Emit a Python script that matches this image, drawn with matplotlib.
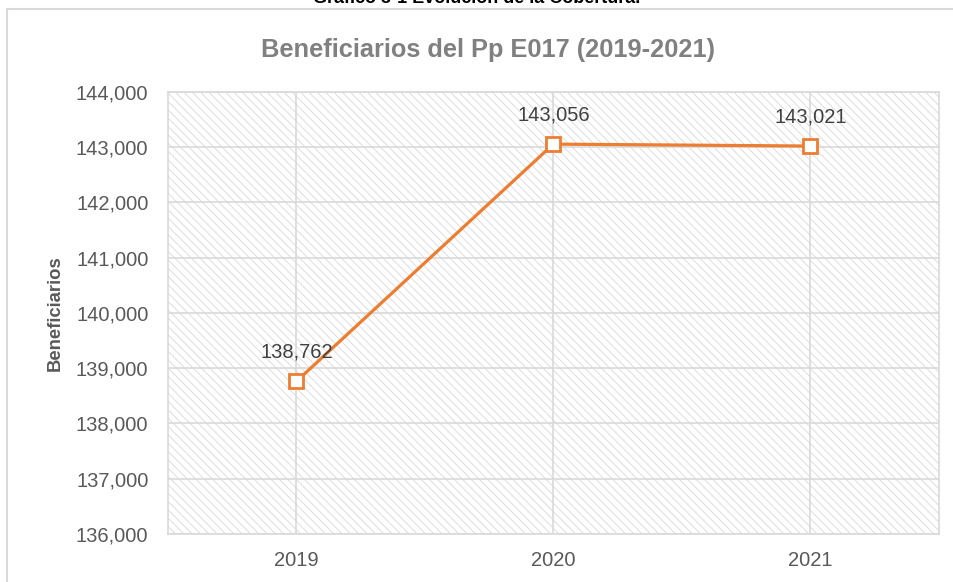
import matplotlib.pyplot as plt
from matplotlib.patches import Rectangle
from matplotlib.ticker import FuncFormatter

plt.rcParams['font.family'] = ['Liberation Sans', 'DejaVu Sans']
plt.rcParams['hatch.linewidth'] = 0.6

# datos
anios = ['2019', '2020', '2021']
beneficiarios = [138762, 143056, 143021]
y_ticks = [136000, 137000, 138000, 139000, 140000, 141000, 142000, 143000, 144000]

naranja = '#ED7D31'
gris_txt = '#595959'
gris_grid = '#d9d9d9'

fig = plt.figure(figsize=(9.54, 5.82), dpi=100)
ax = fig.add_axes([0.176, 0.0825, 0.808, 0.7595])

# fondo rayado del area de trazado
ax.add_patch(Rectangle((0, 0), 1, 1, transform=ax.transAxes, facecolor='white',
                       edgecolor='#d8d8d8', hatch='\\' * 4, linewidth=0, zorder=0))

x = list(range(len(anios)))
ax.plot(x, beneficiarios, color=naranja, linewidth=2.3, marker='s', markersize=10,
        markerfacecolor='white', markeredgecolor=naranja, markeredgewidth=2, zorder=5)

for xi, v in zip(x, beneficiarios):
    ax.annotate(f'{v:,}', (xi, v), xytext=(0, 21), textcoords='offset points',
                ha='center', va='center', fontsize=14.5, color='#404040', zorder=6)

ax.set_xlim(-0.5, 2.5)
ax.set_ylim(136000, 144000)
ax.set_xticks(x)
ax.set_xticklabels(anios)
ax.set_yticks(y_ticks)
ax.yaxis.set_major_formatter(FuncFormatter(lambda v, p: f'{int(v):,}'))
ax.tick_params(length=0, labelsize=14.5, labelcolor=gris_txt)
ax.tick_params(axis='x', pad=12)
ax.tick_params(axis='y', pad=14)
ax.grid(True, color=gris_grid, linewidth=1.2, zorder=1)
ax.set_axisbelow(True)
for s in ax.spines.values():
    s.set_color(gris_grid)
    s.set_linewidth(1.2)
ax.set_facecolor('none')

ax.set_ylabel('Beneficiarios', fontsize=13.3, fontweight='bold', color=gris_txt, labelpad=9)

fig.text(0.512, 0.914, 'Beneficiarios del Pp E017 (2019-2021)', ha='center', va='center',
         fontsize=18.3, fontweight='bold', color='#808080')

# titulo del grafico (cortado arriba, como en el original)
fig.text(0.5, 0.9945, 'Gráfico 3-1 Evolución de la Cobertura.', ha='center', va='baseline',
         fontsize=13, fontweight='bold', color='black')

# marco exterior
fig.add_artist(Rectangle((7 / 954, -0.1), 1.1, 1 - 9 / 582 + 0.1, transform=fig.transFigure,
                         facecolor='none', edgecolor='#d9d9d9', linewidth=1.5))

fig.savefig('out.png', dpi=100)
